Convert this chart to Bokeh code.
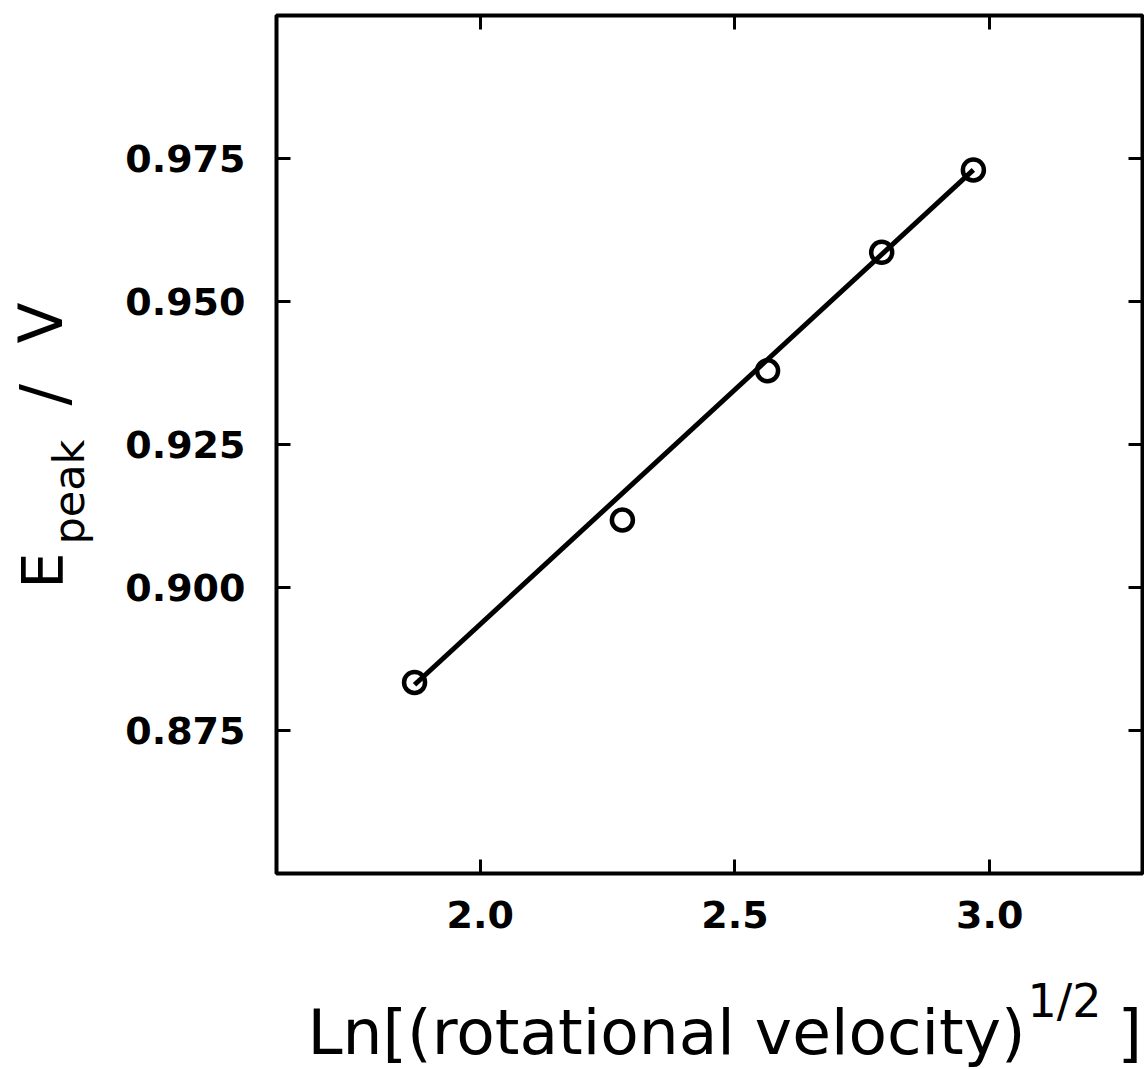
import math
from bokeh.plotting import figure
from bokeh.layouts import row, column
from bokeh.models import (Range1d, FixedTicker, PrintfTickFormatter, LinearAxis,
                          ColumnDataSource)
from bokeh.core.properties import value
from bokeh.embed import file_html
from bokeh.resources import INLINE

# ---- data ----
ln_sqrt_rot = [1.871, 2.279, 2.564, 2.788, 2.968]
e_peak = [0.8834, 0.9118, 0.9379, 0.9586, 0.9730]
fit_x = [1.871, 2.968]
fit_y = [0.8830, 0.9730]
x_ticks = [2.0, 2.5, 3.0]
y_ticks = [0.875, 0.900, 0.925, 0.950, 0.975]
x_title = "Ln[(rotational velocity)"
x_title_sup = "1/2"
x_title_end = "]"
y_title = "E"
y_title_sub = "peak"
y_title_sep = "/"
y_title_unit = "V"

X0, X1 = 1.6, 3.3
Y0, Y1 = 0.85, 1.0

W, H = 1144, 1069
YT_W = 110
MAIN_H = 960
FRAME_TOP, FRAME_BOTTOM = 15, 873

main = figure(width=W - YT_W, height=MAIN_H, output_backend="svg",
              toolbar_location=None, title=None,
              x_range=Range1d(X0, X1), y_range=Range1d(Y0, Y1),
              min_border_left=276 - YT_W, min_border_right=2,
              min_border_top=FRAME_TOP, min_border_bottom=MAIN_H - FRAME_BOTTOM,
              x_axis_type=None, y_axis_type=None)
main.background_fill_color = "white"
main.border_fill_color = "white"
main.outline_line_color = "black"
main.outline_line_width = 4
main.grid.visible = False


def style_axis(ax, ticks, fmt, show_labels, standoff):
    ax.ticker = FixedTicker(ticks=ticks)
    ax.formatter = PrintfTickFormatter(format=fmt)
    ax.axis_line_color = None
    ax.major_tick_in = 14
    ax.major_tick_out = 0
    ax.major_tick_line_width = 3
    ax.major_tick_line_color = "black"
    ax.minor_tick_line_color = None
    if show_labels:
        ax.major_label_text_font = "DejaVu Sans"
        ax.major_label_text_font_style = "bold"
        ax.major_label_text_font_size = "38px"
        ax.major_label_text_color = "black"
        ax.major_label_standoff = standoff
    else:
        ax.major_label_overrides = {t: "" for t in ticks}
        ax.major_label_text_font_size = "1px"
        ax.major_label_standoff = 0


xb = LinearAxis()
style_axis(xb, x_ticks, "%.1f", True, 27)
main.add_layout(xb, "below")
xt = LinearAxis()
style_axis(xt, x_ticks, "%.1f", False, 0)
main.add_layout(xt, "above")
yl = LinearAxis()
style_axis(yl, y_ticks, "%.3f", True, 31)
main.add_layout(yl, "left")
yr = LinearAxis()
style_axis(yr, y_ticks, "%.3f", False, 0)
main.add_layout(yr, "right")

main.line(fit_x, fit_y, line_color="black", line_width=5)
src = ColumnDataSource(dict(x=ln_sqrt_rot, y=e_peak))
main.scatter("x", "y", source=src, size=21, marker="circle",
             fill_color=None, line_color="black", line_width=4.5)


# ---- strips carrying the axis titles; ranges are page pixels (y down) ----
def text_fig(w, h, y_top, y_bottom):
    f = figure(width=w, height=h, output_backend="svg", toolbar_location=None,
               title=None,
               x_range=Range1d(0, w), y_range=Range1d(y_bottom, y_top),
               min_border_left=0, min_border_right=0, min_border_top=0,
               min_border_bottom=0, x_axis_type=None, y_axis_type=None)
    f.outline_line_color = None
    f.grid.visible = False
    f.background_fill_color = "white"
    f.border_fill_color = "white"
    return f


def put(f, txt, x, y, size, angle=0.0):
    f.text(x=[x], y=[y], text=[txt], text_font=value("DejaVu Sans"),
           text_font_size=value(size), text_color="black",
           text_align="left", text_baseline="alphabetic", angle=angle)


# the y strip's frame is aligned with the main frame (page y 15..873)
yfig = text_fig(YT_W, MAIN_H, FRAME_TOP, FRAME_BOTTOM)
put(yfig, y_title, 42, 588, "57px", math.pi / 2)
put(yfig, y_title_sub, 68, 544, "43px", math.pi / 2)
put(yfig, y_title_sep, 43, 405, "64px", math.pi / 2)
put(yfig, y_title_unit, 40, 343, "60px", math.pi / 2)

xfig = text_fig(W, H - MAIN_H, MAIN_H, H)
put(xfig, x_title, 307, 1032, "63px")
put(xfig, x_title_sup, 1027, 1000, "46px")
put(xfig, x_title_end, 1117, 1032, "63px")

layout = column(row(yfig, main, spacing=0), xfig, spacing=0)

open("out.html", "w").write(file_html(layout, INLINE))
